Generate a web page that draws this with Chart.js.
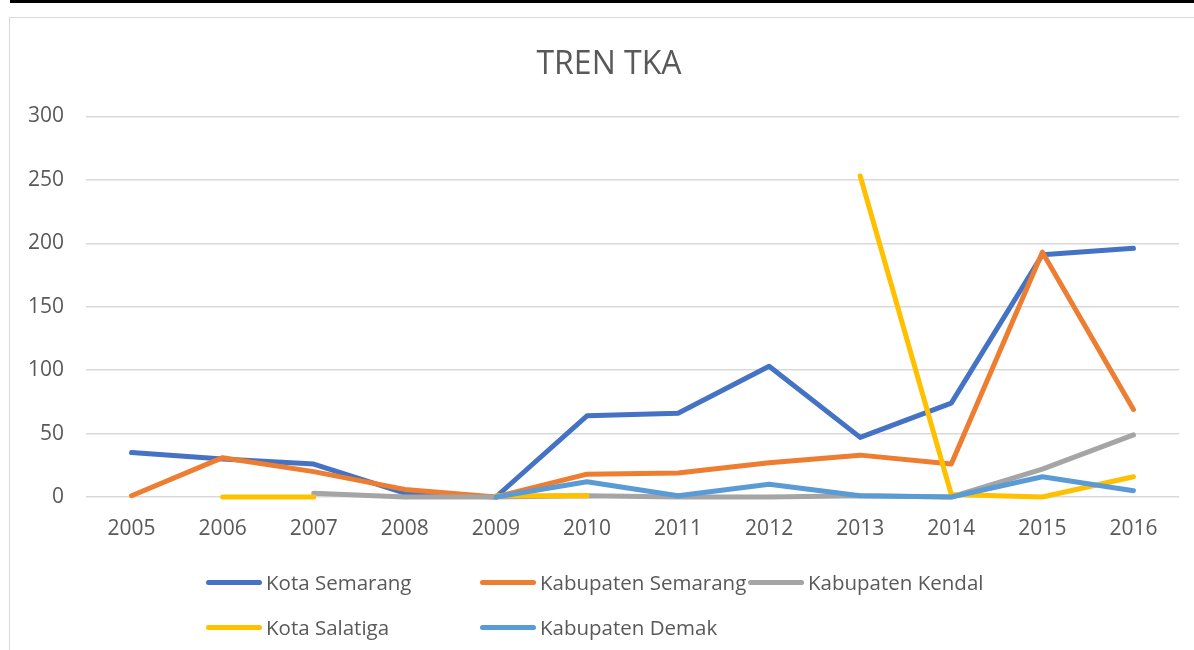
<!DOCTYPE html>
<html>
<head>
<meta charset="utf-8">
<script src="https://cdn.jsdelivr.net/npm/chart.js@4"></script>
<style>
  html, body { margin: 0; background: #fff; font-family: 'Open Sans', sans-serif; overflow: hidden; }
  #topo { position: absolute; left: 10px; top: 0; width: 1184px; height: 3px; background: #000; }
  #caixa { position: absolute; left: 9px; top: 17px; width: 1200px; height: 660px; border: 1.5px solid #d9d9d9; }
  #grafico { position: absolute; left: 0; top: 0; width: 1194px; height: 650px; }
  .leg { position: absolute; display: flex; align-items: center; font-size: 20.5px; color: #595959; white-space: nowrap; }
  .leg span.linha { display: inline-block; width: 56px; height: 5px; border-radius: 3px; margin-right: 4px; }
</style>
</head>
<body>
<div id="topo"></div>
<div id="caixa"></div>
<div id="grafico"><canvas id="inicial" width="1194" height="650"></canvas></div>
<div id="legenda"></div>
<script>
// anos do eixo x
const anos = ['2005', '2006', '2007', '2008', '2009', '2010', '2011', '2012', '2013', '2014', '2015', '2016'];

// valores de cada série (null = sem dado)
const kotaSemarang = [35, 30, 26, 3, 0, 64, 66, 103, 47, 74, 191, 196];
const kabSemarang = [1, 31, 20, 6, 0, 18, 19, 27, 33, 26, 193, 69];
const kabKendal = [null, null, 3, 0, 0, 1, 0, 0, 1, 0, 22, 49];
const kotaSalatiga = [null, 0, 0, null, 1, 1, null, null, 253, 2, 0, 16];
const kabDemak = [null, null, null, null, 0, 12, 1, 10, 1, 0, 16, 5];

const nomes = ['Kota Semarang', 'Kabupaten Semarang', 'Kabupaten Kendal', 'Kota Salatiga', 'Kabupaten Demak'];
const cores = ['#4472C4', '#ED7D31', '#A5A5A5', '#FFC000', '#5B9BD5'];
const ticksY = [0, 50, 100, 150, 200, 250, 300];

const series = [kotaSemarang, kabSemarang, kabKendal, kotaSalatiga, kabDemak];
const corTexto = '#595959';

var datasets = series.map((valores, i) => ({
  label: nomes[i],
  data: valores,
  borderColor: cores[i],
  backgroundColor: cores[i],
  borderWidth: 5,
  borderCapStyle: 'round',
  borderJoinStyle: 'round',
  pointRadius: 0,
  pointHoverRadius: 0,
  tension: 0,
  spanGaps: false,
  clip: false,
  order: series.length - i // as últimas séries ficam por cima, como no Excel
}));

var options = {
  responsive: false,
  animation: false,
  layout: { padding: { left: 0, right: 15, top: 0, bottom: 0 } },
  scales: {
    x: {
      offset: true,
      grid: { display: false, drawTicks: false },
      border: { display: false },
      ticks: { color: corTexto, font: { family: 'Open Sans', size: 21 }, padding: 19, maxRotation: 0 },
      afterFit: (scale) => { scale.height = 153; }
    },
    y: {
      min: ticksY[0],
      max: ticksY[ticksY.length - 1],
      grid: { color: '#d9d9d9', lineWidth: 1.5, drawTicks: false },
      border: { display: false },
      ticks: { stepSize: 50, color: corTexto, font: { family: 'Open Sans', size: 21 }, padding: 22 },
      afterFit: (scale) => { scale.width = 86; }
    }
  },
  plugins: {
    title: {
      display: true,
      text: 'TREN TKA',
      color: corTexto,
      font: { family: 'Open Sans', size: 32, weight: 'normal' },
      padding: { top: 46, bottom: 32 }
    },
    legend: { display: false },
    tooltip: { enabled: false }
  }
};

// o título no Excel fica centrado na caixa toda, não na área do gráfico
const centraTitulo = {
  id: 'centraTitulo',
  afterLayout(chart) {
    const t = chart.titleBlock;
    if (t) { t.left += 19.5; t.right += 19.5; }
  }
};

const chartInicial = new Chart(document.getElementById('inicial'), {
  type: 'line',
  data: { labels: anos, datasets: datasets },
  options: options,
  plugins: [centraTitulo]
});

// legenda em html, em colunas como no Excel
const colunasX = [206, 480, 748];
const linhasY = [582, 627];
const legenda = document.getElementById('legenda');
nomes.forEach((nome, i) => {
  const item = document.createElement('div');
  item.className = 'leg';
  item.style.left = colunasX[i % 3] + 'px';
  item.style.top = (linhasY[Math.floor(i / 3)] - 14) + 'px';
  item.style.height = '28px';
  item.innerHTML = '<span class="linha" style="background:' + cores[i] + '"></span>' + nome;
  legenda.appendChild(item);
});
</script>
</body>
</html>
